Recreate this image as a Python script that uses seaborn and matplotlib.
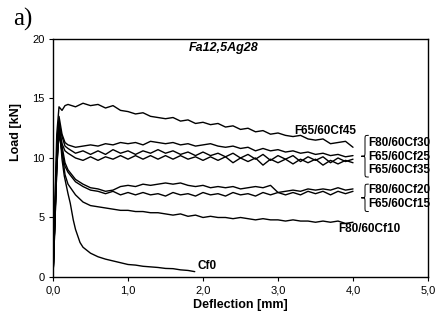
import pandas as pd
import seaborn as sns
import matplotlib.pyplot as plt
from matplotlib.path import Path
from matplotlib.patches import PathPatch

# --- data (deflection in mm, load in kN) ---
head_x = [0, 0.02, 0.05, 0.08, 0.12, 0.16]
tail_x = [0.2, 0.3, 0.4, 0.5, 0.6, 0.7, 0.8, 0.9, 1.0, 1.1, 1.2, 1.3, 1.4,
          1.5, 1.6, 1.7, 1.8, 1.9, 2.0, 2.1, 2.2, 2.3, 2.4, 2.5, 2.6, 2.7,
          2.8, 2.9, 3.0, 3.1, 3.2, 3.3, 3.4, 3.5, 3.6, 3.7, 3.8, 3.9, 4.0]

cf45_head = [0, 5.0, 12.0, 14.3, 14.0, 14.4]
cf45_tail = [14.5, 14.3, 14.6, 14.4, 14.5, 14.2, 14.4, 14.0, 13.9, 13.7, 13.8,
             13.5, 13.4, 13.3, 13.4, 13.1, 13.2, 12.9, 13.0, 12.8, 12.9, 12.6,
             12.7, 12.4, 12.5, 12.2, 12.3, 12.0, 12.1, 11.9, 11.8, 11.9, 11.6,
             11.5, 11.6, 11.2, 11.3, 11.4, 10.9]

cf30_head = [0, 4.0, 10.0, 13.5, 12.0, 11.3]
cf30_tail = [11.1, 10.9, 11.0, 11.1, 11.0, 11.2, 11.1, 11.3, 11.2, 11.3, 11.1,
             11.4, 11.3, 11.2, 11.3, 11.1, 11.2, 11.0, 11.1, 11.2, 11.0, 10.9,
             11.0, 10.8, 10.9, 10.6, 10.8, 10.6, 10.7, 10.5, 10.6, 10.4, 10.5,
             10.3, 10.4, 10.2, 10.3, 10.1, 10.2]

cf25_head = [0, 4.0, 9.5, 13.0, 11.8, 11.0]
cf25_tail = [10.8, 10.4, 10.6, 10.3, 10.6, 10.3, 10.7, 10.4, 10.6, 10.3, 10.6,
             10.4, 10.7, 10.4, 10.6, 10.3, 10.5, 10.2, 10.5, 10.2, 10.4, 10.1,
             10.4, 10.0, 10.3, 9.9, 10.3, 9.8, 10.2, 9.9, 10.2, 9.7, 10.1,
             9.8, 10.1, 9.6, 10.0, 9.7, 9.9]

cf35_head = [0, 3.5, 9.0, 12.5, 11.2, 10.6]
cf35_tail = [10.4, 10.0, 9.8, 10.1, 9.8, 10.1, 9.9, 10.2, 9.9, 10.2, 9.9,
             10.2, 9.9, 10.2, 9.9, 10.2, 9.9, 10.1, 9.8, 10.1, 9.8, 10.1,
             9.6, 10.0, 9.7, 10.0, 9.4, 9.9, 9.6, 9.9, 9.5, 9.9, 9.6,
             9.9, 9.4, 9.8, 9.5, 9.8, 9.6]

cf20_head = [0, 4.0, 9.5, 13.0, 11.0, 9.6]
cf20_tail = [9.0, 8.2, 7.8, 7.5, 7.4, 7.2, 7.3, 7.6, 7.7, 7.6, 7.8,
             7.7, 7.8, 7.9, 7.8, 7.9, 7.7, 7.6, 7.7, 7.5, 7.6, 7.5,
             7.6, 7.4, 7.5, 7.6, 7.5, 7.7, 7.1, 7.2, 7.3, 7.2, 7.4,
             7.3, 7.4, 7.3, 7.5, 7.3, 7.4]

cf15_head = [0, 3.5, 9.0, 12.5, 10.5, 9.3]
cf15_tail = [8.8, 8.0, 7.6, 7.3, 7.2, 7.0, 7.2, 6.9, 7.1, 6.9, 7.1,
             6.9, 7.0, 6.8, 7.1, 6.9, 7.0, 6.8, 7.1, 6.9, 7.0, 6.8,
             7.1, 6.9, 7.0, 6.8, 7.1, 6.9, 7.1, 6.9, 7.1, 6.9, 7.2,
             7.0, 7.2, 6.9, 7.2, 7.0, 7.2]

cf10_head = [0, 4.0, 9.5, 12.0, 10.5, 8.6]
cf10_tail = [7.8, 6.9, 6.3, 6.0, 5.9, 5.8, 5.7, 5.6, 5.6, 5.5, 5.5,
             5.4, 5.4, 5.3, 5.2, 5.3, 5.1, 5.2, 5.0, 5.1, 5.0, 5.0,
             4.9, 5.0, 4.9, 4.8, 4.9, 4.8, 4.8, 4.7, 4.8, 4.7, 4.7,
             4.6, 4.7, 4.6, 4.7, 4.5, 4.6]

cf0_x = [0, 0.02, 0.04, 0.07, 0.1, 0.12, 0.15, 0.2, 0.23, 0.27, 0.3, 0.36,
         0.4, 0.5, 0.6, 0.7, 0.8, 0.9, 1.0, 1.1, 1.2, 1.3, 1.4, 1.5, 1.6,
         1.7, 1.8, 1.89]
cf0_y = [0, 4.0, 9.0, 13.0, 11.5, 9.9, 8.5, 7.0, 6.2, 4.8, 4.0, 2.9,
         2.5, 2.0, 1.7, 1.5, 1.35, 1.2, 1.05, 1.0, 0.9, 0.85, 0.8, 0.72, 0.7,
         0.6, 0.55, 0.45]

x_ticks = [0, 1, 2, 3, 4, 5]
x_ticklabels = ['0,0', '1,0', '2,0', '3,0', '4,0', '5,0']
y_ticks = [0, 5, 10, 15, 20]


def build_frame():
    curves = {
        'Cf45': (head_x + tail_x, cf45_head + cf45_tail),
        'Cf30': (head_x + tail_x, cf30_head + cf30_tail),
        'Cf25': (head_x + tail_x, cf25_head + cf25_tail),
        'Cf35': (head_x + tail_x, cf35_head + cf35_tail),
        'Cf20': (head_x + tail_x, cf20_head + cf20_tail),
        'Cf15': (head_x + tail_x, cf15_head + cf15_tail),
        'Cf10': (head_x + tail_x, cf10_head + cf10_tail),
        'Cf0': (cf0_x, cf0_y),
    }
    rows = []
    for name, (xs, ys) in curves.items():
        for xv, yv in zip(xs, ys):
            rows.append({'curve': name, 'deflection': xv, 'load': yv})
    return pd.DataFrame(rows)


def brace(ax, x0, top, bot, w=0.05, d=0.35):
    # curly bracket drawn as a bezier path, tip pointing left
    mid = (top + bot) / 2
    verts = [(x0 + w, top), (x0, top), (x0, top), (x0, top - d),
             (x0, mid + d),
             (x0, mid), (x0, mid), (x0 - w, mid),
             (x0, mid), (x0, mid), (x0, mid - d),
             (x0, bot + d),
             (x0, bot), (x0, bot), (x0 + w, bot)]
    codes = [Path.MOVETO, Path.CURVE4, Path.CURVE4, Path.CURVE4,
             Path.LINETO,
             Path.CURVE4, Path.CURVE4, Path.CURVE4,
             Path.CURVE4, Path.CURVE4, Path.CURVE4,
             Path.LINETO,
             Path.CURVE4, Path.CURVE4, Path.CURVE4]
    ax.add_patch(PathPatch(Path(verts, codes), fc='none', ec='black', lw=0.7,
                           clip_on=False))


sns.set_theme(style='ticks')
plt.rcParams['font.family'] = ['Liberation Sans', 'DejaVu Sans']
plt.rcParams.update({'text.color': 'black', 'axes.labelcolor': 'black',
                     'xtick.color': 'black', 'ytick.color': 'black'})

df = build_frame()

fig = plt.figure(figsize=(4.37, 3.2), dpi=100)
ax = fig.add_axes([0.1213, 0.1344, 0.8581, 0.7438])

sns.lineplot(data=df, x='deflection', y='load', units='curve', estimator=None,
             sort=False, color='black', lw=1.0, ax=ax)

ax.set_xlim(0, 5)
ax.set_ylim(0, 20)
ax.set_xticks(x_ticks)
ax.set_xticklabels(x_ticklabels)
ax.set_yticks(y_ticks)
ax.tick_params(labelsize=8, length=3, width=0.8, colors='black', pad=3)
for s in ax.spines.values():
    s.set_color('black')
    s.set_linewidth(1.0)

ax.set_xlabel('Deflection [mm]', fontsize=9, fontweight='bold', labelpad=3)
ax.set_ylabel('Load [kN]', fontsize=9, fontweight='bold')
ax.yaxis.set_label_coords(-0.083, 0.61)

lab = dict(fontsize=8.5, fontweight='bold', color='black', va='center')
ax.text(2.27, 19.2, 'Fa12,5Ag28', fontsize=9, fontweight='bold',
        style='italic', ha='center', va='center')
ax.text(4.04, 12.25, 'F65/60Cf45', ha='right', **lab)
ax.text(4.21, 11.3, 'F80/60Cf30', ha='left', **lab)
ax.text(4.21, 10.1, 'F65/60Cf25', ha='left', **lab)
ax.text(4.21, 9.0, 'F65/60Cf35', ha='left', **lab)
ax.text(4.21, 7.3, 'F80/60Cf20', ha='left', **lab)
ax.text(4.21, 6.1, 'F65/60Cf15', ha='left', **lab)
ax.text(3.8, 4.0, 'F80/60Cf10', ha='left', **lab)
ax.text(1.93, 0.95, 'Cf0', ha='left', **lab)

brace(ax, 4.16, 11.9, 8.4)
brace(ax, 4.16, 7.8, 5.5)

fig.text(0.03, 0.94, 'a)', fontsize=18, family='Liberation Serif',
         ha='left', va='center')

fig.savefig('out.png', dpi=100, facecolor='white')
